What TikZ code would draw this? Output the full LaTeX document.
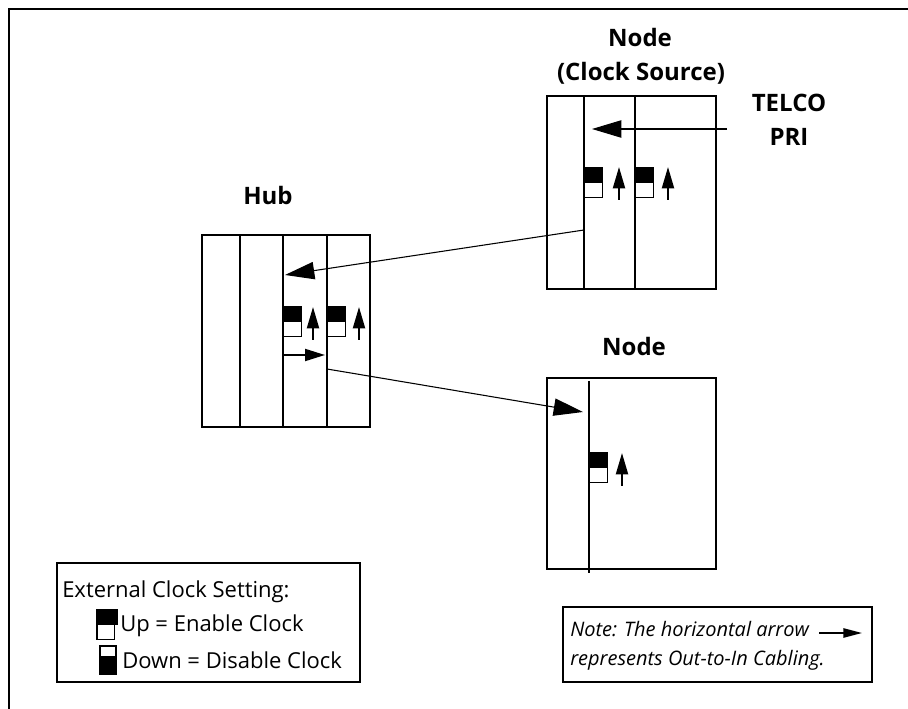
\documentclass[tikz,border=0pt]{standalone}
\usepackage{fontspec}
\setmainfont{Open Sans}
\usetikzlibrary{arrows.meta,positioning}

\begin{document}
\begin{tikzpicture}[x=0.75pt, y=-0.75pt,
    rack/.style={draw, line width=1.5pt, inner sep=0pt, outer sep=0pt, anchor=north west},
    slot/.style={line width=1.5pt},
    swon/.style={draw, fill=black, line width=1.2pt, inner sep=0pt, outer sep=0pt, minimum width=14pt, minimum height=11pt, anchor=north west},
    swoff/.style={swon, fill=white},
    up/.style={line width=1.5pt, -{Triangle[length=16pt, width=9pt]}},
    cable/.style={line width=0.8pt, -{Triangle[length=22pt, width=13pt]}},
    loop/.style={line width=1.5pt, -{Triangle[length=15pt, width=9pt]}},
    title/.style={font=\fontsize{18}{21}\selectfont\bfseries, anchor=base, inner sep=0pt},
    txt/.style={font=\fontsize{16.5}{19}\selectfont, anchor=base west, inner sep=0pt},
    notetxt/.style={txt, font=\fontsize{15}{18}\selectfont\itshape}
]
\useasboundingbox (0,0) rectangle (908,709);

% Frame
\draw[line width=1.5pt] (908,9) -- (9,9) -- (9,709);

% Racks
\node[rack, minimum width=126.75pt, minimum height=144.75pt] (src) at (547,96) {};
\node[rack, minimum width=126pt, minimum height=144pt] (hub) at (202,235) {};
\node[rack, minimum width=126.75pt, minimum height=143.25pt] (node) at (547,378) {};

\draw[slot] (584,96) -- (584,289);
\draw[slot] (635,95) -- (635,289);
\draw[slot] (240,235) -- (240,428);
\draw[slot] (283,235) -- (283,428);
\draw[slot] (327,235) -- (327,428);
\draw[slot] (589,381) -- (589,573);

% Labels
\node[title] (srclbl) at (640,47) {Node};
\node[title] (srclbl2) at (641,81) {(Clock Source)};
\node[title] (hublbl) at (268,205) {Hub};
\node[title] (nodelbl) at (634,356) {Node};
\node[title] (telcolbl) at (789,112) {TELCO};
\node[title] (prilbl) at (789,146) {PRI};

% Switches
\node[swon] (sw1) at (584,168) {};
\node[swoff, below=0pt of sw1] (sw1b) {};
\draw[up] (619,200) -- (619,167);
\node[swon] (sw2) at (635,168) {};
\node[swoff, below=0pt of sw2] (sw2b) {};
\draw[up] (668,200) -- (668,167);
\node[swon] (sw3) at (283,307) {};
\node[swoff, below=0pt of sw3] (sw3b) {};
\draw[up] (313,340) -- (313,307);
\node[swon] (sw4) at (327,307) {};
\node[swoff, below=0pt of sw4] (sw4b) {};
\draw[up] (359,340) -- (359,307);
\node[swon] (sw5) at (589,453) {};
\node[swoff, below=0pt of sw5] (sw5b) {};
\draw[up] (622,486) -- (622,453);

% Cabling
\coordinate (telco) at (727,129);
\coordinate (srcin) at (592,129);
\coordinate (srcout) at (584,230);
\coordinate (hubin) at (285,275);
\coordinate (hubloop) at (283,355);
\coordinate (hubret) at (325,355);
\coordinate (hubout) at (327,369);
\coordinate (nodein) at (583,412);
\draw[cable] (telco) -- (srcin);
\draw[cable] (srcout) -- (hubin);
\draw[loop] (hubloop) -- (hubret);
\draw[cable] (hubout) -- (nodein);

% Legend
\draw[line width=1.5pt] (57,563) rectangle (360,682);
\node[txt] (legtitle) at (62,597) {External Clock Setting:};
\node[swon, minimum width=15pt] (legup) at (97,610) {};
\node[swoff, minimum width=13pt, below=0pt of legup.south west, anchor=north west] (legupb) {};
\node[txt] (uptxt) at (120,632) {Up = Enable Clock};
\node[swoff, minimum width=12pt, minimum height=8pt] (legdn) at (100,646) {};
\node[swon, minimum width=12pt, minimum height=13pt, below=0pt of legdn] (legdnb) {};
\node[txt] (dntxt) at (122,668) {Down = Disable Clock};

% Note
\node[notetxt, anchor=base east] (note2) at (825,665) {represents Out-to-In Cabling.};
\node[notetxt] (note1) at (note2.base west |- 0,636) {Note: The horizontal arrow};
\draw[line width=1.5pt] ([xshift=-5pt]note2.west |- 0,607) rectangle (872,682);
\coordinate (notea) at (819,633);
\coordinate (noteb) at (862,633);
\draw[line width=1.2pt, -{Triangle[length=14pt, width=7pt]}] (notea) -- (noteb);

\end{tikzpicture}
\end{document}
